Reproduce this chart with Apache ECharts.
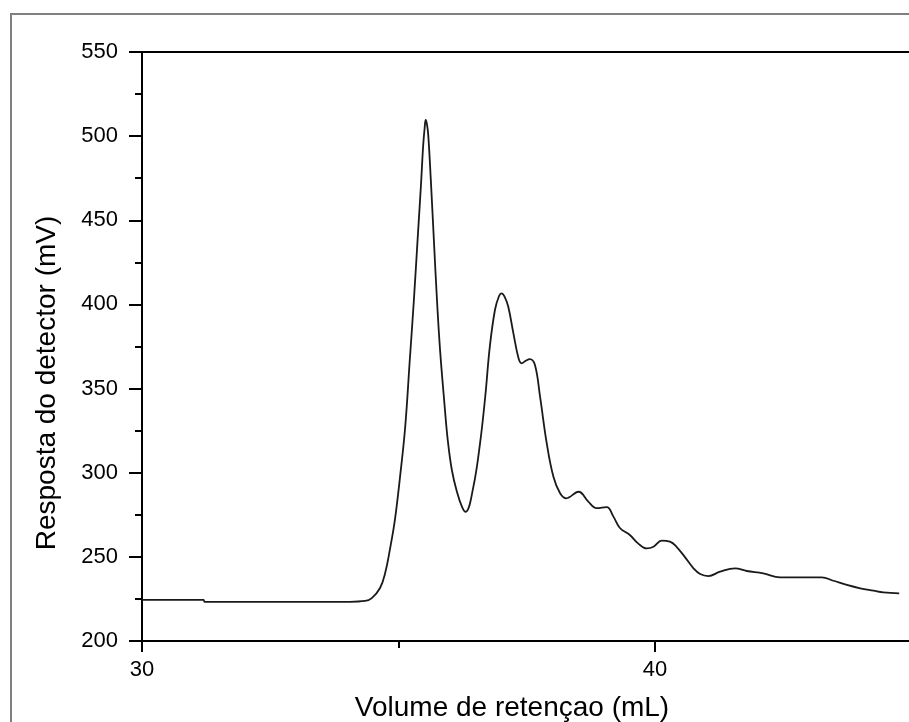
<!DOCTYPE html>
<html>
<head>
<meta charset="utf-8">
<script src="https://cdn.jsdelivr.net/npm/echarts@6/dist/echarts.min.js"></script>
<style>html,body{margin:0;padding:0;background:#fff;}#c{width:909px;height:722px;}</style>
</head>
<body>
<div id="c"></div>
<script>
// Retention volume (mL)
const volume = [30.0, 31.2, 31.22, 34.05, 34.35, 34.48, 34.64, 34.74, 34.83, 34.93, 35.03, 35.13, 35.22, 35.30, 35.38, 35.44, 35.48, 35.51, 35.53, 35.555, 35.58, 35.63, 35.69, 35.75, 35.81, 35.89, 35.96, 36.04, 36.14, 36.24, 36.31, 36.46, 36.59, 36.69, 36.78, 36.88, 36.96, 37.01, 37.07, 37.14, 37.24, 37.34, 37.40, 37.48, 37.56, 37.66, 37.76, 37.89, 38.02, 38.15, 38.27, 38.51, 38.70, 38.86, 39.06, 39.19, 39.32, 39.51, 39.67, 39.84, 39.97, 40.13, 40.29, 40.42, 40.58, 40.75, 40.88, 41.04, 41.27, 41.56, 41.79, 42.11, 42.44, 43.25, 43.48, 43.74, 44.00, 44.26, 44.45, 44.76];
// Detector response (mV)
const response = [224.4, 224.4, 223.3, 223.3, 223.8, 225.5, 231.5, 240.4, 254, 272, 297.5, 327, 367, 402.6, 442.4, 472, 494, 505, 509.6, 507, 500.6, 474, 438, 402.6, 373, 343, 319.4, 301.6, 288.5, 279.6, 276.8, 291.7, 317.6, 345, 374.9, 396.7, 405, 406.6, 404.5, 398.6, 382.8, 368, 365, 366.5, 367.5, 364, 345, 317.4, 297.6, 287.8, 284.8, 288.7, 282.8, 278.9, 279.5, 273.9, 267, 263, 258, 255, 256, 259.6, 259, 256, 250, 243.2, 239.8, 238.6, 241.2, 243.2, 241.6, 240.2, 237.8, 237.8, 235.8, 233.3, 231.3, 229.9, 228.9, 228.3];
const xTitle = 'Volume de retençao (mL)';
const yTitle = 'Resposta do detector (mV)';

const points = volume.map((v, i) => [v, response[i]]);
const FONT = '"Liberation Sans", Arial, sans-serif';
const axisColor = '#000';

const chart = echarts.init(document.getElementById('c'), null, {renderer: 'canvas'});
chart.setOption({
  animation: false,
  backgroundColor: '#fff',
  grid: {left: 142, top: 52, width: 769.5, height: 589, containLabel: false, outerBoundsMode: 'none'},
  xAxis: [{
    type: 'value', min: 30, max: 45, interval: 10, position: 'bottom',
    axisLine: {show: true, onZero: false, lineStyle: {color: axisColor, width: 2}},
    axisTick: {show: true, length: 11, lineStyle: {color: axisColor, width: 2}},
    minorTick: {show: true, splitNumber: 2, length: 7, lineStyle: {color: axisColor, width: 2}},
    splitLine: {show: false},
    axisLabel: {color: '#000', fontSize: 22, fontFamily: FONT, margin: 18,
      formatter: v => (v % 10 === 0 ? String(v) : '')}
  }, {
    type: 'value', min: 30, max: 45, position: 'top',
    axisLine: {show: true, onZero: false, lineStyle: {color: axisColor, width: 2}},
    axisTick: {show: false}, axisLabel: {show: false}, splitLine: {show: false}
  }],
  yAxis: {
    type: 'value', min: 200, max: 550, interval: 50,
    axisLine: {show: true, onZero: false, lineStyle: {color: axisColor, width: 2}},
    axisTick: {show: true, length: 13, lineStyle: {color: axisColor, width: 2}},
    minorTick: {show: true, splitNumber: 2, length: 7, lineStyle: {color: axisColor, width: 2}},
    splitLine: {show: false},
    axisLabel: {color: '#000', fontSize: 22, fontFamily: FONT, margin: 24}
  },
  graphic: [
    {type: 'rect', z: -1, shape: {x: 11, y: 14, width: 1000, height: 1000},
      style: {fill: 'none', stroke: '#808080', lineWidth: 2}},
    {type: 'text', x: 47, y: 383, rotation: Math.PI / 2,
      style: {text: yTitle, fill: '#000', font: '28px ' + FONT, textAlign: 'center', textVerticalAlign: 'middle'}},
    {type: 'text', x: 512, y: 708,
      style: {text: xTitle, fill: '#000', font: '28px ' + FONT, textAlign: 'center', textVerticalAlign: 'middle'}}
  ],
  series: [{
    type: 'line', data: points, xAxisIndex: 0, showSymbol: false,
    smooth: 0.4,
    lineStyle: {color: '#1a1a1a', width: 1.8}
  }]
});
</script>
</body>
</html>
